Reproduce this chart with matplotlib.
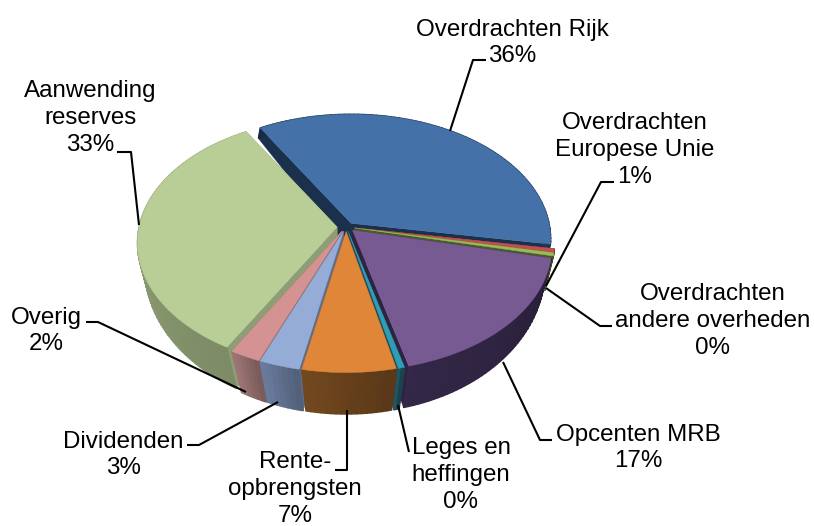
import numpy as np
import matplotlib
matplotlib.use("Agg")
import matplotlib.pyplot as plt
from matplotlib.colors import to_rgb

# --- data ---
categories = ["Overdrachten Rijk", "Overdrachten\nEuropese Unie", "Overdrachten\nandere overheden",
              "Opcenten MRB", "Leges en\nheffingen", "Rente-\nopbrengsten", "Dividenden", "Overig",
              "Aanwending\nreserves"]
shares = [36.1, 0.5, 0.4, 17.4, 0.45, 6.7, 2.9, 2.2, 33.2]
percent_labels = ["36%", "1%", "0%", "17%", "0%", "7%", "3%", "2%", "33%"]

# --- style ---
top_colors = ["#4472A8", "#C0504D", "#9BBB59", "#775A92", "#2F9DB5", "#E08639", "#95ADD6", "#D49392", "#B9CD96"]
side_colors = ["#1B304D", "#7E3533", "#4A5A2A", "#2E2340", "#1E4C58", "#66401B", "#5E6E8C", "#8C6968", "#8E9E74"]
label_xy = [(512, 43), (635, 150), (713, 321), (638, 448), (461, 475), (295, 489), (123, 455), (46, 331), (90, 118)]
leaders = [[(450, 131), (473, 60), (486, 60)],
           [(546, 286), (601, 182), (614, 182)],
           [(546, 288), (600, 326), (612, 326)],
           [(503, 362), (540, 440), (552, 440)],
           [(398, 405), (409, 452)],
           [(347, 410), (347, 470), (335, 470)],
           [(278, 402), (199, 445), (187, 445)],
           [(246, 392), (98, 322), (86, 322)],
           [(139, 225), (131, 152), (117, 152)]]

start_angle = 120.6
Rx, explode = 198.0, 0.045
top = dict(cy=227.0, ry=123.0, k=0.128, rx=Rx)
bot = dict(cy=258.0, ry=142.0, k=0.063, rx=Rx - 6)

def ring(theta, g, off):
    s = 1.0 / (1.0 + g["k"] * np.sin(theta))
    return (346 + off[0] + g["rx"] * np.cos(theta) * s,
            g["cy"] + off[1] - g["ry"] * np.sin(theta) * s)

def shade(c, f):
    return tuple(min(1, v * f) for v in to_rgb(c))

fig = plt.figure(figsize=(8.14, 5.26), dpi=100)
ax = fig.add_axes([0, 0, 1, 1])
ax.set_xlim(0, 814)
ax.set_ylim(526, 0)
ax.axis("off")

vals = np.array(shares, float)
ang = np.radians(start_angle - 360 * np.concatenate([[0], np.cumsum(vals)]) / vals.sum())
mids = (ang[:-1] + ang[1:]) / 2
order = sorted(range(len(vals)), key=lambda i: -np.sin(mids[i]))

z = 1
for i in order:
    a0, a1, m = ang[i], ang[i + 1], mids[i]
    off_t = (explode * Rx * np.cos(m), -explode * 100 * np.sin(m))
    off_b = off_t
    th = np.linspace(a1, a0, max(3, int(abs(a0 - a1) / np.radians(1.5)) + 2))  # left -> right
    tx, ty = ring(th, top, off_t)
    bx, by = ring(th, bot, off_b)
    ax_t = (346 + off_t[0], top["cy"] + off_t[1])
    ax_b = (346 + off_b[0], bot["cy"] + off_b[1])
    side = side_colors[i]
    # radial cut walls
    for e in (0, -1):
        ax.fill([ax_t[0], tx[e], bx[e], ax_b[0]], [ax_t[1], ty[e], by[e], ax_b[1]],
                color=side, lw=0.3, zorder=z)
    # outer wall
    n = len(th) - 1
    for j in range(n):
        f = 1.12 - 0.24 * j / max(n - 1, 1)
        c = shade(side, f)
        ax.fill([tx[j], tx[j + 1], bx[j + 1], bx[j]], [ty[j], ty[j + 1], by[j + 1], by[j]],
                facecolor=c, edgecolor=c, lw=1.0, zorder=z)
    ax.fill(np.r_[ax_t[0], tx], np.r_[ax_t[1], ty], color=top_colors[i], lw=0.3, zorder=z + 0.5)
    z += 1

for pts in leaders:
    p = np.array(pts)
    ax.plot(p[:, 0], p[:, 1], color="black", lw=1.5, zorder=50, solid_capstyle="butt")

for cat, pct, (x, y) in zip(categories, percent_labels, label_xy):
    ax.text(x, y, cat + "\n" + pct, ha="center", va="center", fontsize=17.4,
            family="Liberation Sans", linespacing=1.27, color="black", zorder=60)

fig.savefig("out.png", dpi=100)
